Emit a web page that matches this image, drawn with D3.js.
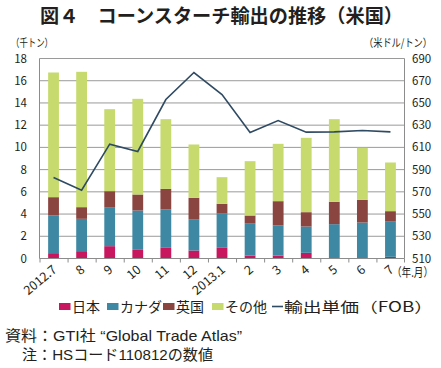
<!DOCTYPE html>
<html>
<head>
<meta charset="utf-8">
<script src="https://cdn.jsdelivr.net/npm/d3@7"></script>
<style>
  body { margin: 0; background: #fff; }
  svg text { font-family: "Noto Sans CJK JP", "Noto Sans", sans-serif; fill: #231f20; }
</style>
</head>
<body>
<div id="chart"></div>
<script>
"use strict";

var months = ["2012.7", "8", "9", "10", "11", "12", "2013.1", "2", "3", "4", "5", "6", "7"];
var japan  = [0.48, 0.66, 1.11, 0.78, 0.96, 0.72, 0.96, 0.27, 0.27, 0.51, 0.03, 0.03, 0.15];
var canada = [3.39, 2.91, 3.51, 3.54, 3.45, 2.82, 3.12, 2.91, 2.70, 2.37, 3.06, 3.21, 3.21];
var uk     = [1.65, 1.05, 1.44, 1.44, 1.86, 1.92, 0.84, 0.69, 2.19, 1.29, 2.01, 2.04, 0.90];
var others = [11.22, 12.18, 7.38, 8.61, 6.27, 4.80, 2.40, 4.89, 5.16, 6.69, 7.44, 4.68, 4.38];
var price  = [582.9, 571.5, 612.9, 606.3, 653.1, 677.4, 657.6, 623.4, 634.2, 623.7, 624.0, 625.2, 624.0];
var leftTicks = [0, 2, 4, 6, 8, 10, 12, 14, 16, 18];
var rightTicks = [510, 530, 550, 570, 590, 610, 630, 650, 670, 690];

var seriesNames = ["日本", "カナダ", "英国", "その他"];
var seriesColors = ["#c8175e", "#3e88a3", "#8b4540", "#c6da6e"];
var lineName = "輸出単価（FOB）";
var lineColor = "#2f4a63";

var w = 441, h = 368;
var plotL = 39.5, plotR = 404.5, plotT = 58.5, plotB = 258.5;

var svg = d3.select("#chart").append("svg").attr("width", w).attr("height", h);

var x = d3.scaleBand().domain(months).range([plotL, plotR]).padding(0);
var yL = d3.scaleLinear().domain([0, 18]).range([plotB, plotT]);
var yR = d3.scaleLinear().domain([510, 690]).range([plotB, plotT]);
var barW = 10.8;

// title
svg.append("text").attr("x", 40).attr("y", 23)
  .style("font-size", "19px").style("font-weight", "bold")
  .attr("textLength", 363).attr("lengthAdjust", "spacingAndGlyphs")
  .text("図４　コーンスターチ輸出の推移（米国）");

svg.append("text").attr("x", 11).attr("y", 47).style("font-size", "11px")
  .attr("textLength", 42).attr("lengthAdjust", "spacingAndGlyphs").text("（千トン）");
svg.append("text").attr("x", 432).attr("y", 47).style("font-size", "11px")
  .attr("text-anchor", "end")
  .attr("textLength", 68).attr("lengthAdjust", "spacingAndGlyphs").text("（米ドル/トン）");

// grid
svg.append("g").selectAll("line").data(leftTicks.slice(1)).join("line")
  .attr("x1", plotL).attr("x2", plotR)
  .attr("y1", function (d) { return yL(d); }).attr("y2", function (d) { return yL(d); })
  .attr("stroke", "#9a9a9a").attr("stroke-width", 1);

// stacked bars
var rows = months.map(function (m, i) {
  return { month: m, s0: japan[i], s1: canada[i], s2: uk[i], s3: others[i] };
});
var stack = d3.stack().keys(["s0", "s1", "s2", "s3"])(rows);
svg.append("g").selectAll("g").data(stack).join("g")
  .attr("fill", function (d, i) { return seriesColors[i]; })
  .selectAll("rect").data(function (d) { return d; }).join("rect")
  .attr("x", function (d) { return x(d.data.month) + x.bandwidth() / 2 - barW / 2; })
  .attr("width", barW)
  .attr("y", function (d) { return yL(d[1]); })
  .attr("height", function (d) { return yL(d[0]) - yL(d[1]); });

// axes
var axisColor = "#8c8c8c";
svg.append("line").attr("x1", plotL).attr("x2", plotL).attr("y1", plotT).attr("y2", plotB)
  .attr("stroke", axisColor);
svg.append("line").attr("x1", plotR).attr("x2", plotR).attr("y1", plotT).attr("y2", plotB)
  .attr("stroke", axisColor);
svg.append("line").attr("x1", plotL).attr("x2", plotR).attr("y1", plotB).attr("y2", plotB)
  .attr("stroke", axisColor);
svg.append("g").selectAll("line").data(months).join("line")
  .attr("x1", function (d) { return x(d) + 0.5; }).attr("x2", function (d) { return x(d) + 0.5; })
  .attr("y1", plotB).attr("y2", plotB + 4).attr("stroke", axisColor);
svg.append("line").attr("x1", plotR).attr("x2", plotR).attr("y1", plotB).attr("y2", plotB + 4)
  .attr("stroke", axisColor);

svg.append("g").selectAll("text").data(leftTicks).join("text")
  .attr("x", 27).attr("y", function (d) { return yL(d) + 4; })
  .attr("text-anchor", "end").style("font-size", "11.5px")
  .text(function (d) { return d; });
svg.append("g").selectAll("text").data(rightTicks).join("text")
  .attr("x", 412).attr("y", function (d) { return yR(d) + 4; })
  .style("font-size", "11.5px")
  .text(function (d) { return d; });

svg.append("g").selectAll("text").data(months).join("text")
  .attr("text-anchor", "end").style("font-size", "12.5px")
  .attr("transform", function (d) {
    return "translate(" + (x(d) + x.bandwidth() / 2 + 4) + "," + 271 + ") rotate(-40)";
  })
  .text(function (d) { return d; });
svg.append("text").attr("x", 392).attr("y", 277).style("font-size", "12px")
  .attr("textLength", 41).attr("lengthAdjust", "spacingAndGlyphs").text("（年.月）");

// price line
svg.append("path").datum(price)
  .attr("fill", "none").attr("stroke", lineColor).attr("stroke-width", 1.6)
  .attr("d", d3.line()
    .x(function (d, i) { return x(months[i]) + x.bandwidth() / 2; })
    .y(function (d) { return yR(d); }));

// legend
var legX = [59, 107, 163, 212];
var leg = svg.append("g");
seriesNames.forEach(function (name, i) {
  leg.append("rect").attr("x", legX[i]).attr("y", 303).attr("width", 11.5).attr("height", 7)
    .attr("fill", seriesColors[i]);
  leg.append("text").attr("x", legX[i] + 13).attr("y", 312).style("font-size", "14px").text(name);
});
leg.append("line").attr("x1", 272).attr("x2", 283).attr("y1", 306.5).attr("y2", 306.5)
  .attr("stroke", lineColor).attr("stroke-width", 1.6);
leg.append("text").attr("x", 284).attr("y", 312).style("font-size", "14px")
  .attr("textLength", 149).attr("lengthAdjust", "spacingAndGlyphs").text(lineName);

// notes
svg.append("text").attr("x", 5).attr("y", 341).style("font-size", "15px")
  .style("font-family", "'Liberation Sans', 'Noto Sans CJK JP', sans-serif")
  .attr("textLength", 237).attr("lengthAdjust", "spacingAndGlyphs")
  .text("資料：GTI社 “Global Trade Atlas”");
svg.append("text").attr("x", 22).attr("y", 360).style("font-size", "15px")
  .style("font-family", "'Liberation Sans', 'Noto Sans CJK JP', sans-serif")
  .attr("textLength", 191).attr("lengthAdjust", "spacingAndGlyphs")
  .text("注：HSコード110812の数値");
</script>
</body>
</html>
